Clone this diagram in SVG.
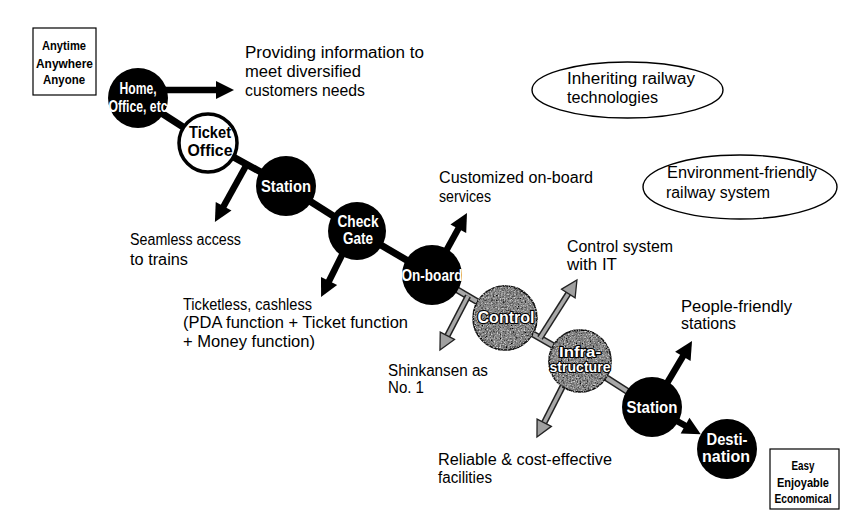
<svg xmlns="http://www.w3.org/2000/svg" width="842" height="512" viewBox="0 0 842 512">
<style>
.lbl{font-family:"Liberation Sans",Arial,sans-serif;font-size:16px;fill:#000}
.nl{font-family:"Liberation Sans",Arial,sans-serif;font-size:16px;font-weight:bold;fill:#fff;text-anchor:middle}
.nlg{font-family:"Liberation Sans",Arial,sans-serif;font-size:16px;font-weight:bold;fill:#fff;text-anchor:middle;stroke:#000;stroke-width:2.2;paint-order:stroke;stroke-linejoin:round}
.nlw{font-family:"Liberation Sans",Arial,sans-serif;font-size:16px;font-weight:bold;fill:#000;text-anchor:middle}
.bx{font-family:"Liberation Sans",Arial,sans-serif;font-size:12px;font-weight:bold;fill:#000;text-anchor:middle}
.box{fill:#fff;stroke:#000;stroke-width:1.2}
.ell{fill:none;stroke:#000;stroke-width:1.4}
.blk{fill:#000}
.gry{fill:#8e8e8e;stroke:#222;stroke-width:1.5}
.cb{stroke:#000;stroke-width:7;fill:none}
.cgo{stroke:#222;stroke-width:7;fill:none}
.cgi{stroke:#a8a8a8;stroke-width:4;fill:none}
.ab{stroke:#000;stroke-width:6.5;fill:none}
.ago{stroke:#222;stroke-width:6.5;fill:none}
.agi{stroke:#a8a8a8;stroke-width:3.5;fill:none}
</style>
<defs>
<marker id="mb" markerUnits="userSpaceOnUse" markerWidth="18" markerHeight="18" refX="6" refY="9" orient="auto" overflow="visible">
<path d="M0,0 L18,9 L0,18 z" fill="#000"/>
</marker>
<marker id="mg" markerUnits="userSpaceOnUse" markerWidth="16" markerHeight="16" refX="4" refY="8" orient="auto" overflow="visible">
<path d="M0,0 L16,8 L0,16 z" fill="#a0a0a0" stroke="#222" stroke-width="1.3" stroke-linejoin="miter"/>
</marker>
<filter id="spk" x="-10%" y="-10%" width="120%" height="120%">
<feTurbulence type="fractalNoise" baseFrequency="0.6" numOctaves="2" seed="4" result="t"/>
<feColorMatrix in="t" type="matrix" values="0 0 0 0 0  0 0 0 0 0  0 0 0 0 0  2.6 0 0 0 -1.05" result="dark"/>
<feComposite in="dark" in2="SourceAlpha" operator="in" result="d2"/>
<feTurbulence type="fractalNoise" baseFrequency="0.7" numOctaves="2" seed="11" result="t2"/>
<feColorMatrix in="t2" type="matrix" values="0 0 0 0 1  0 0 0 0 1  0 0 0 0 1  2.2 0 0 0 -1.2" result="light"/>
<feComposite in="light" in2="SourceAlpha" operator="in" result="l2"/>
<feMerge><feMergeNode in="SourceGraphic"/><feMergeNode in="d2"/><feMergeNode in="l2"/></feMerge>
</filter>
</defs>
<rect width="842" height="512" fill="#fff"/>

<g id="connectors">
<line class="cb" x1="138" y1="98" x2="208" y2="143"/>
<line class="cb" x1="208" y1="143" x2="286" y2="186"/>
<line class="cb" x1="286" y1="186" x2="357" y2="231"/>
<line class="cb" x1="357" y1="231" x2="432" y2="275"/>
<line class="cgo" x1="432" y1="275" x2="505" y2="318"/>
<line class="cgi" x1="432" y1="275" x2="505" y2="318"/>
<line class="cgo" x1="505" y1="318" x2="580" y2="361"/>
<line class="cgi" x1="505" y1="318" x2="580" y2="361"/>
<line class="cgo" x1="580" y1="361" x2="652" y2="407"/>
<line class="cgi" x1="580" y1="361" x2="630" y2="393"/>
<line class="ab" x1="652" y1="407" x2="690.3" y2="428.5" marker-end="url(#mb)"/>
<line class="ab" x1="160" y1="90" x2="222" y2="90" marker-end="url(#mb)"/>
<line class="ab" x1="247" y1="164" x2="220.7" y2="211.5" marker-end="url(#mb)"/>
<line class="ab" x1="347" y1="245" x2="326.4" y2="286.3" marker-end="url(#mb)"/>
<line class="ab" x1="440" y1="262" x2="461.2" y2="223.5" marker-end="url(#mb)"/>
<line class="ab" x1="660" y1="395" x2="685.9" y2="351.3" marker-end="url(#mb)"/>
<line class="ago" x1="468" y1="296" x2="445.5" y2="339.3"/>
<line class="agi" x1="468" y1="296" x2="445.5" y2="339.3" marker-end="url(#mg)"/>
<line class="ago" x1="540" y1="338" x2="570.5" y2="290.1"/>
<line class="agi" x1="540" y1="338" x2="570.5" y2="290.1" marker-end="url(#mg)"/>
<line class="ago" x1="570" y1="372" x2="542.4" y2="426.3"/>
<line class="agi" x1="570" y1="372" x2="542.4" y2="426.3" marker-end="url(#mg)"/>
</g>

<g id="node-home">
<circle class="blk" cx="138" cy="98" r="30"/>
<text class="nl" x="138" y="94" textLength="37" lengthAdjust="spacingAndGlyphs">Home,</text>
<text class="nl" x="138" y="112" textLength="59" lengthAdjust="spacingAndGlyphs">Office, etc</text>
</g>
<g id="node-ticket">
<circle cx="208" cy="143" r="29" fill="#fff" stroke="#000" stroke-width="3.5"/>
<text class="nlw" x="210" y="138" textLength="42" lengthAdjust="spacingAndGlyphs">Ticket</text>
<text class="nlw" x="210" y="156" textLength="45" lengthAdjust="spacingAndGlyphs">Office</text>
</g>
<g id="node-station1">
<circle class="blk" cx="286" cy="186" r="30"/>
<text class="nl" x="286" y="192" textLength="50" lengthAdjust="spacingAndGlyphs">Station</text>
</g>
<g id="node-checkgate">
<circle class="blk" cx="357" cy="231" r="29"/>
<text class="nl" x="358" y="227" textLength="41" lengthAdjust="spacingAndGlyphs">Check</text>
<text class="nl" x="358" y="244" textLength="30" lengthAdjust="spacingAndGlyphs">Gate</text>
</g>
<g id="node-onboard">
<circle class="blk" cx="432" cy="275" r="30"/>
<text class="nl" x="432" y="281" textLength="61" lengthAdjust="spacingAndGlyphs">On-board</text>
</g>
<g id="node-control">
<circle class="gry" cx="505" cy="318" r="32" filter="url(#spk)"/>
<text class="nlg" x="506" y="323" textLength="57" lengthAdjust="spacingAndGlyphs">Control</text>
</g>
<g id="node-infra">
<circle class="gry" cx="580" cy="361" r="31" filter="url(#spk)"/>
<text class="nlg" x="580" y="357" style="font-size:14px" textLength="42" lengthAdjust="spacingAndGlyphs">Infra-</text>
<text class="nlg" x="580" y="372" style="font-size:14px" textLength="61" lengthAdjust="spacingAndGlyphs">structure</text>
</g>
<g id="node-station2">
<circle class="blk" cx="652" cy="407" r="30"/>
<text class="nl" x="652" y="413" textLength="51" lengthAdjust="spacingAndGlyphs">Station</text>
</g>
<g id="node-destination">
<circle class="blk" cx="727" cy="449" r="30"/>
<text class="nl" x="727" y="445" textLength="41" lengthAdjust="spacingAndGlyphs">Desti-</text>
<text class="nl" x="726" y="462" textLength="48" lengthAdjust="spacingAndGlyphs">nation</text>
</g>

<g id="box-anytime">
<rect class="box" x="33" y="28" width="63" height="67"/>
<text class="bx" x="64" y="49.5" style="font-size:13px" textLength="44" lengthAdjust="spacingAndGlyphs">Anytime</text>
<text class="bx" x="64.5" y="67.5" style="font-size:13px" textLength="57" lengthAdjust="spacingAndGlyphs">Anywhere</text>
<text class="bx" x="64" y="83.5" style="font-size:13px" textLength="42" lengthAdjust="spacingAndGlyphs">Anyone</text>
</g>
<g id="box-easy">
<rect class="box" x="770" y="449" width="69" height="60"/>
<text class="bx" x="803" y="470" textLength="23" lengthAdjust="spacingAndGlyphs">Easy</text>
<text class="bx" x="803" y="487" textLength="52" lengthAdjust="spacingAndGlyphs">Enjoyable</text>
<text class="bx" x="803" y="503" textLength="57" lengthAdjust="spacingAndGlyphs">Economical</text>
</g>
<g id="ellipse-inheriting">
<ellipse class="ell" cx="627.5" cy="90" rx="95.5" ry="28"/>
<text class="lbl" x="567" y="84" textLength="128" lengthAdjust="spacingAndGlyphs">Inheriting railway</text>
<text class="lbl" x="567" y="103" textLength="91" lengthAdjust="spacingAndGlyphs">technologies</text>
</g>
<g id="ellipse-environment">
<ellipse class="ell" cx="740" cy="187" rx="97" ry="32"/>
<text class="lbl" x="667" y="178" textLength="150" lengthAdjust="spacingAndGlyphs">Environment-friendly</text>
<text class="lbl" x="666" y="198" textLength="104" lengthAdjust="spacingAndGlyphs">railway system</text>
</g>

<g id="labels">
<text class="lbl" x="245" y="58" textLength="179" lengthAdjust="spacingAndGlyphs">Providing information to</text>
<text class="lbl" x="245" y="77" textLength="116" lengthAdjust="spacingAndGlyphs">meet diversified</text>
<text class="lbl" x="245" y="96" textLength="120" lengthAdjust="spacingAndGlyphs">customers needs</text>
<text class="lbl" x="439" y="183" textLength="154" lengthAdjust="spacingAndGlyphs">Customized on-board</text>
<text class="lbl" x="439" y="202" textLength="52" lengthAdjust="spacingAndGlyphs">services</text>
<text class="lbl" x="130" y="245" textLength="111" lengthAdjust="spacingAndGlyphs">Seamless access</text>
<text class="lbl" x="130" y="265" textLength="58" lengthAdjust="spacingAndGlyphs">to trains</text>
<text class="lbl" x="183" y="310" textLength="129" lengthAdjust="spacingAndGlyphs">Ticketless, cashless</text>
<text class="lbl" x="183" y="328" textLength="225" lengthAdjust="spacingAndGlyphs">(PDA function + Ticket function</text>
<text class="lbl" x="183" y="347" textLength="132" lengthAdjust="spacingAndGlyphs">+ Money function)</text>
<text class="lbl" x="567" y="252" textLength="106" lengthAdjust="spacingAndGlyphs">Control system</text>
<text class="lbl" x="567" y="270" textLength="50" lengthAdjust="spacingAndGlyphs">with IT</text>
<text class="lbl" x="388" y="376" textLength="100" lengthAdjust="spacingAndGlyphs">Shinkansen as</text>
<text class="lbl" x="388" y="393" textLength="36" lengthAdjust="spacingAndGlyphs">No. 1</text>
<text class="lbl" x="681" y="312" textLength="111" lengthAdjust="spacingAndGlyphs">People-friendly</text>
<text class="lbl" x="681" y="329" textLength="55" lengthAdjust="spacingAndGlyphs">stations</text>
<text class="lbl" x="438" y="465" textLength="174" lengthAdjust="spacingAndGlyphs">Reliable &amp; cost-effective</text>
<text class="lbl" x="438" y="483" textLength="54" lengthAdjust="spacingAndGlyphs">facilities</text>
</g>
</svg>
